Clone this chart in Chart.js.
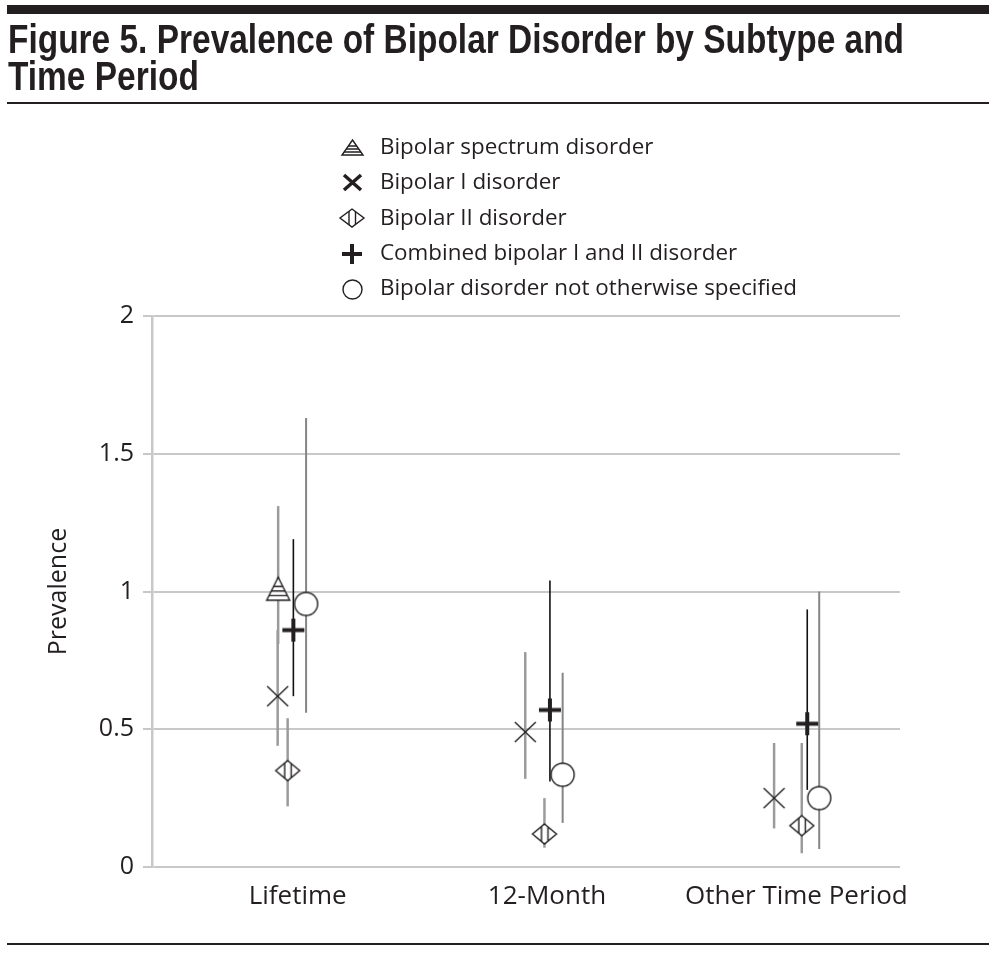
<!DOCTYPE html>
<html>
<head>
<meta charset="utf-8">
<script src="https://cdn.jsdelivr.net/npm/chart.js@4.4.1/dist/chart.umd.min.js"></script>
<style>
  body { margin: 0; background: #fff; }
  #wrap { position: relative; width: 996px; height: 953px; overflow: hidden; }
  #topbar { position: absolute; left: 7px; top: 5px; width: 982px; height: 9px; background: #231f20; }
  #title {
    position: absolute; left: 8px; top: 21px; margin: 0;
    font-family: "Liberation Sans", Arial, sans-serif; white-space: nowrap;
    font-weight: bold; font-size: 40px; line-height: 37px; color: #231f20;
    transform-origin: 0 0;
  }
  #title span { display: inline-block; }
  #rule1 { position: absolute; left: 7px; top: 102px; width: 982px; height: 2px; background: #231f20; }
  #rule2 { position: absolute; left: 7px; top: 943px; width: 982px; height: 2px; background: #231f20; }
  #chart { position: absolute; left: 0; top: 0; }
</style>
</head>
<body>
<div id="wrap">
  <canvas id="chart" width="996" height="953"></canvas>
  <div id="topbar"></div>
  <h1 id="title"><span id="titleLine">Figure 5. Prevalence of Bipolar Disorder by Subtype and</span><br><span>Time Period</span></h1>
  <div id="rule1"></div>
  <div id="rule2"></div>
</div>
<script>
const periods = ["Lifetime", "12-Month", "Other Time Period"];
const subtypes = [
  "Bipolar spectrum disorder",
  "Bipolar I disorder",
  "Bipolar II disorder",
  "Combined bipolar I and II disorder",
  "Bipolar disorder not otherwise specified"
];

// prevalence estimates, one per period (null = not reported)
const spectrumPrev = [1.01, null, null];
const bipolar1Prev = [0.62, 0.49, 0.25];
const bipolar2Prev = [0.35, 0.12, 0.15];
const combinedPrev = [0.86, 0.57, 0.52];
const nosPrev      = [0.955, 0.335, 0.25];

// interval bounds
const spectrumLow = [0.81, null, null];
const spectrumHigh = [1.31, null, null];
const bipolar1Low = [0.44, 0.32, 0.14];
const bipolar1High = [0.86, 0.78, 0.45];
const bipolar2Low = [0.22, 0.07, 0.05];
const bipolar2High = [0.54, 0.25, 0.45];
const combinedLow = [0.62, 0.31, 0.28];
const combinedHigh = [1.19, 1.04, 0.935];
const nosLow = [0.56, 0.16, 0.065];
const nosHigh = [1.63, 0.705, 1.0];

// horizontal dodge of each subtype inside a period (category units)
const spectrumShift = [0.006, 0, 0];
const bipolar1Shift = [0.004, -0.003, -0.005];
const bipolar2Shift = [0.044, 0.074, 0.106];
const combinedShift = [0.067, 0.096, 0.128];
const nosShift      = [0.118, 0.147, 0.176];

const INK = "#231f20";

// squeeze the bold title into a condensed look
const titleEl = document.getElementById("title");
const sx = 896 / document.getElementById("titleLine").getBoundingClientRect().width;
titleEl.style.transform = "scale(" + sx + ", 1)";

function markerCanvas(w, h, draw) {
  const c = document.createElement("canvas");
  c.width = w; c.height = h;
  draw(c.getContext("2d"), w, h);
  return c;
}

function stripedTriangle(w, h, lw) {
  return markerCanvas(w + 4, h + 4, (g, cw, ch) => {
    const cx = cw / 2, t = 2, b = ch - 2;
    const path = () => { g.beginPath(); g.moveTo(cx, t); g.lineTo(cw - 2, b); g.lineTo(2, b); g.closePath(); };
    path(); g.fillStyle = "#fff"; g.fill();
    g.save(); path(); g.clip();
    g.strokeStyle = INK; g.lineWidth = lw;
    [0.4, 0.6, 0.8].forEach(f => {
      const y = t + f * (b - t);
      g.beginPath(); g.moveTo(0, y); g.lineTo(cw, y); g.stroke();
    });
    g.restore();
    path(); g.strokeStyle = INK; g.lineWidth = lw; g.stroke();
  });
}

function splitDiamond(w, h, lw) {
  return markerCanvas(w + 4, h + 4, (g, cw, ch) => {
    const cx = cw / 2, cy = ch / 2;
    const path = () => { g.beginPath(); g.moveTo(cx, 2); g.lineTo(cw - 2, cy); g.lineTo(cx, ch - 2); g.lineTo(2, cy); g.closePath(); };
    path(); g.fillStyle = "#fff"; g.fill();
    g.save(); path(); g.clip();
    g.strokeStyle = INK; g.lineWidth = lw;
    [-3, 3.5].forEach(dx => {
      g.beginPath(); g.moveTo(cx + dx, 0); g.lineTo(cx + dx, ch); g.stroke();
    });
    g.restore();
    path(); g.strokeStyle = INK; g.lineWidth = lw; g.stroke();
  });
}

function xMark(w, h, lw) {
  return markerCanvas(w + 4, h + 4, (g, cw, ch) => {
    g.strokeStyle = INK; g.lineWidth = lw;
    g.beginPath();
    g.moveTo(2, 2); g.lineTo(cw - 2, ch - 2);
    g.moveTo(cw - 2, 2); g.lineTo(2, ch - 2);
    g.stroke();
  });
}

function plusMark(w, h, lw) {
  return markerCanvas(w + 2, h + 2, (g, cw, ch) => {
    g.strokeStyle = INK; g.lineWidth = lw;
    g.beginPath();
    g.moveTo(1, ch / 2); g.lineTo(cw - 1, ch / 2);
    g.moveTo(cw / 2, 1); g.lineTo(cw / 2, ch - 1);
    g.stroke();
  });
}

function ringMark(r, lw) {
  const s = Math.ceil(2 * r + 4);
  return markerCanvas(s, s, (g, cw, ch) => {
    g.beginPath(); g.arc(cw / 2, ch / 2, r, 0, Math.PI * 2);
    g.fillStyle = "#fff"; g.fill();
    g.strokeStyle = INK; g.lineWidth = lw; g.stroke();
  });
}

function points(prev, low, high, shift) {
  return periods
    .map((p, i) => prev[i] == null ? null : { x: i + shift[i], y: prev[i], lo: low[i], hi: high[i] })
    .filter(Boolean);
}

const datasets = [
  { label: subtypes[0], data: points(spectrumPrev, spectrumLow, spectrumHigh, spectrumShift),
    pointStyle: stripedTriangle(23, 23, 1.4), legendIcon: stripedTriangle(21, 15, 1.4),
    errColor: "#9b9b9b", errWidth: 2.5 },
  { label: subtypes[1], data: points(bipolar1Prev, bipolar1Low, bipolar1High, bipolar1Shift),
    pointStyle: xMark(21, 20, 1.4), legendIcon: xMark(17, 15, 3.5),
    errColor: "#9b9b9b", errWidth: 2.5 },
  { label: subtypes[2], data: points(bipolar2Prev, bipolar2Low, bipolar2High, bipolar2Shift),
    pointStyle: splitDiamond(24, 20, 1.4), legendIcon: splitDiamond(24, 18, 1.4),
    errColor: "#9b9b9b", errWidth: 2.5 },
  { label: subtypes[3], data: points(combinedPrev, combinedLow, combinedHigh, combinedShift),
    pointStyle: plusMark(22, 23, 4), legendIcon: plusMark(20, 20, 4),
    errColor: "#111", errWidth: 1.6 },
  { label: subtypes[4], data: points(nosPrev, nosLow, nosHigh, nosShift),
    pointStyle: ringMark(11.5, 1.4), legendIcon: ringMark(9.5, 1.4),
    errColor: "#858585", errWidth: 2 }
].map(d => Object.assign(d, { showLine: false, pointRadius: 12, pointHoverRadius: 12 }));

const errorBars = {
  id: "errorBars",
  beforeDatasetsDraw(chart) {
    const ctx = chart.ctx, y = chart.scales.y;
    ctx.save();
    chart.data.datasets.forEach((ds, i) => {
      const meta = chart.getDatasetMeta(i);
      meta.data.forEach((pt, j) => {
        const raw = ds.data[j];
        ctx.strokeStyle = ds.errColor;
        ctx.lineWidth = ds.errWidth;
        ctx.beginPath();
        ctx.moveTo(pt.x, y.getPixelForValue(raw.hi));
        ctx.lineTo(pt.x, y.getPixelForValue(raw.lo));
        ctx.stroke();
      });
    });
    ctx.restore();
  }
};

const stackedLegend = {
  id: "stackedLegend",
  afterDraw(chart) {
    const ctx = chart.ctx;
    ctx.save();
    ctx.font = '22.4px "Open Sans", sans-serif';
    ctx.fillStyle = INK;
    ctx.textBaseline = "middle";
    ctx.textAlign = "left";
    chart.data.datasets.forEach((ds, i) => {
      const cy = 147.5 + i * 35.4;
      const icon = ds.legendIcon;
      ctx.drawImage(icon, Math.round(352 - icon.width / 2), Math.round(cy - icon.height / 2));
      ctx.fillText(ds.label, 380, cy);
    });
    ctx.restore();
  }
};

Chart.defaults.font.family = '"Open Sans", sans-serif';
Chart.defaults.color = INK;

new Chart(document.getElementById("chart"), {
  type: "scatter",
  data: { datasets: datasets },
  options: {
    responsive: false,
    animation: false,
    layout: { padding: { top: 316, right: 96, bottom: 36, left: 0 } },
    plugins: { legend: { display: false }, tooltip: { enabled: false } },
    scales: {
      x: {
        type: "linear",
        min: -0.5,
        max: 2.5,
        afterBuildTicks: axis => { axis.ticks = periods.map((p, i) => ({ value: i })); },
        afterFit: axis => { axis.height = 50; },
        ticks: {
          callback: v => periods[v],
          autoSkip: false,
          maxRotation: 0,
          labelOffset: 21,
          padding: 14,
          font: { size: 26 },
          color: INK
        },
        grid: { display: false, drawTicks: false },
        border: { display: false }
      },
      y: {
        min: 0,
        max: 2,
        afterFit: axis => { axis.width = 152; },
        ticks: {
          stepSize: 0.5,
          callback: v => String(v),
          padding: 9,
          font: { size: 25 },
          color: INK
        },
        grid: { color: "#c8c8c8", lineWidth: 2, tickLength: 9 },
        border: { color: "#c8c8c8", width: 2.5 },
        title: {
          display: true,
          text: "Prevalence",
          font: { size: 25 },
          color: INK,
          padding: { top: 44, bottom: 0 }
        }
      }
    }
  },
  plugins: [errorBars, stackedLegend]
});
</script>
</body>
</html>
